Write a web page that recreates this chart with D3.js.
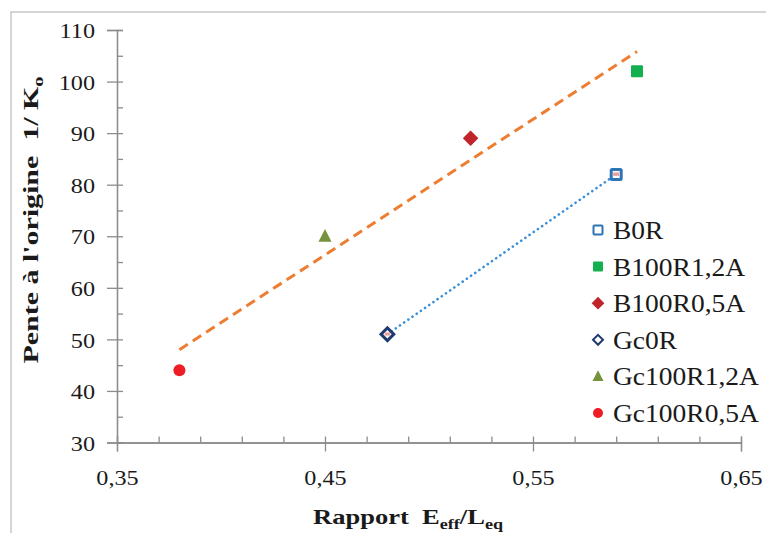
<!DOCTYPE html>
<html><head><meta charset="utf-8">
<script src="https://cdn.jsdelivr.net/npm/d3@7"></script>
<style>body{margin:0;background:#fff}svg{display:block}text{white-space:pre}</style>
</head><body>
<svg id="c" width="766" height="533"></svg>
<script>
// ---- data ----
const seriesNames = ["B0R", "B100R1,2A", "B100R0,5A", "Gc0R", "Gc100R1,2A", "Gc100R0,5A"];
const xValues = [0.59, 0.60, 0.52, 0.48, 0.45, 0.38];
const yValues = [82, 102, 89, 51, 70, 44];
const xTickValues = [0.35, 0.45, 0.55, 0.65];
const yTickValues = [30, 40, 50, 60, 70, 80, 90, 100, 110];
const orangeFitSeries = ["B100R1,2A", "B100R0,5A", "Gc100R1,2A", "Gc100R0,5A"];
const blueLineSeries = ["Gc0R", "B0R"];

// ---- styles ----
const styles = {
  "B0R":        {shape: "square",   size: 10, fill: "#fff",    stroke: "#2E75B6", sw: 3,   inner: "#e8a0a0"},
  "B100R1,2A":  {shape: "square",   size: 12, fill: "#13B04F", stroke: "none",    sw: 0},
  "B100R0,5A":  {shape: "diamond",  size: 11, fill: "#C0252C", stroke: "none",    sw: 0},
  "Gc0R":       {shape: "diamond",  size: 9,  fill: "#fff",    stroke: "#1F3A6E", sw: 3,   inner: "#e8a0a0"},
  "Gc100R1,2A": {shape: "triangle", size: 13, fill: "#76923C", stroke: "none",    sw: 0},
  "Gc100R0,5A": {shape: "circle",   size: 12, fill: "#EE1C25", stroke: "none",    sw: 0}
};
const legendStyles = {
  "B0R":        {size: 9,  sw: 2},
  "B100R1,2A":  {size: 10, sw: 0},
  "B100R0,5A":  {size: 9,  sw: 0},
  "Gc0R":       {size: 7,  sw: 2},
  "Gc100R1,2A": {size: 11, sw: 0},
  "Gc100R0,5A": {size: 10, sw: 0}
};

const svg = d3.select("#c");
const W = 766, H = 533;
const FONT = "'Liberation Serif', 'Times New Roman', serif";

function widen(sel, k) {
  sel.each(function () {
    const w = this.getComputedTextLength();
    d3.select(this).attr("textLength", w * k).attr("lengthAdjust", "spacingAndGlyphs");
  });
}

// frame
svg.append("rect").attr("x", 11).attr("y", 12).attr("width", W + 20).attr("height", H + 20)
  .attr("fill", "none").attr("stroke", "#c8c8c8").attr("stroke-width", 1.5);

const x = d3.scaleLinear().domain([0.35, 0.65]).range([117, 741]);
const y = d3.scaleLinear().domain([30, 110]).range([442.5, 30]);

const axisColor = "#8c8c8c";
const fmtX = v => d3.format(".2f")(v).replace(".", ",");

const xMinor = d3.range(0, 16).map(i => +(0.35 + i * 0.02).toFixed(2));
const yMinor = d3.range(0, 17).map(i => 30 + i * 5);

function styleAxis(g) {
  g.select(".domain").attr("stroke", axisColor).attr("stroke-width", 1.3);
  g.selectAll(".tick line").attr("stroke", axisColor).attr("stroke-width", 1.3);
}

const gxMinor = svg.append("g").attr("transform", `translate(0,${y(30)})`)
  .call(d3.axisBottom(x).tickValues(xMinor).tickSize(-6).tickFormat(""));
styleAxis(gxMinor);
const gyMinor = svg.append("g").attr("transform", `translate(${x(0.35)},0)`)
  .call(d3.axisLeft(y).tickValues(yMinor).tickSize(-6).tickFormat(""));
styleAxis(gyMinor);

const gx = svg.append("g").attr("transform", `translate(0,${y(30)})`)
  .call(d3.axisBottom(x).tickValues(xTickValues).tickSize(9).tickFormat(fmtX));
styleAxis(gx);
gx.selectAll("text").attr("y", 35).attr("dy", "0.35em")
  .attr("font-family", FONT).attr("font-size", 22).attr("fill", "#1a1a1a");
widen(gx.selectAll("text"), 1.1);

const gy = svg.append("g").attr("transform", `translate(${x(0.35)},0)`)
  .call(d3.axisLeft(y).tickValues(yTickValues).tickSize(10).tickFormat(d3.format("d")));
styleAxis(gy);
gy.selectAll("text").attr("x", -22).attr("dy", "0.35em")
  .attr("font-family", FONT).attr("font-size", 22).attr("fill", "#1a1a1a");
widen(gy.selectAll("text"), 1.1);

// ---- trend lines ----
const pts = seriesNames.map((n, i) => ({name: n, x: xValues[i], y: yValues[i]}));
const fitPts = pts.filter(p => orangeFitSeries.includes(p.name));
const mx = d3.mean(fitPts, p => p.x), my = d3.mean(fitPts, p => p.y);
const slope = d3.sum(fitPts, p => (p.x - mx) * (p.y - my)) / d3.sum(fitPts, p => (p.x - mx) ** 2);
const icpt = my - slope * mx;
const [fx0, fx1] = d3.extent(fitPts, p => p.x);
const line = d3.line().x(d => x(d[0])).y(d => y(d[1]));
svg.append("path").datum([[fx0, icpt + slope * fx0], [fx1, icpt + slope * fx1]])
  .attr("d", line).attr("fill", "none").attr("stroke", "#ED7D31")
  .attr("stroke-width", 3).attr("stroke-dasharray", "10,6").attr("stroke-linecap", "butt");

const bluePts = blueLineSeries.map(n => pts.find(p => p.name === n)).sort((a, b) => a.x - b.x);
svg.append("path").datum(bluePts.map(p => [p.x, p.y]))
  .attr("d", line).attr("fill", "none").attr("stroke", "#3A8FD8")
  .attr("stroke-width", 2.6).attr("stroke-dasharray", "0.1,5").attr("stroke-linecap", "round");

// ---- markers ----
function drawMarker(g, st, size, sw, showInner) {
  const s = size;
  let el;
  if (st.shape === "square") {
    el = g.append("rect").attr("x", -s / 2).attr("y", -s / 2).attr("width", s).attr("height", s).attr("rx", 1);
  } else if (st.shape === "diamond") {
    el = g.append("rect").attr("x", -s / 2).attr("y", -s / 2).attr("width", s).attr("height", s)
      .attr("transform", "rotate(45)");
  } else if (st.shape === "triangle") {
    el = g.append("path").attr("d", `M0,${-s * 0.55}L${s * 0.5},${s * 0.42}L${-s * 0.5},${s * 0.42}Z`);
  } else {
    el = g.append("circle").attr("r", s / 2);
  }
  el.attr("fill", st.fill).attr("stroke", st.stroke).attr("stroke-width", sw);
  if (showInner && st.inner) {
    g.append("rect").attr("x", -s * 0.3).attr("y", -s * 0.2).attr("width", s * 0.6).attr("height", s * 0.35)
      .attr("fill", st.inner);
  }
}

pts.forEach(p => {
  const st = styles[p.name];
  const g = svg.append("g").attr("transform", `translate(${x(p.x)},${y(p.y)})`);
  drawMarker(g, st, st.size, st.sw, true);
});

// ---- legend ----
const legTop = 230, legStep = 36.6;
seriesNames.forEach((n, i) => {
  const cy = legTop + i * legStep;
  const g = svg.append("g").attr("transform", `translate(598,${cy})`);
  drawMarker(g, styles[n], legendStyles[n].size, legendStyles[n].sw, false);
  const t = svg.append("text").attr("x", 613).attr("y", cy).attr("dy", "0.36em")
    .attr("font-family", FONT).attr("font-size", 25).attr("fill", "#1a1a1a").text(n);
  widen(t, 1.1);
});

// ---- axis titles ----
const xt = svg.append("text").attr("x", 408).attr("y", 524).attr("text-anchor", "middle")
  .attr("font-family", FONT).attr("font-size", 22).attr("font-weight", "bold").attr("fill", "#1a1a1a");
xt.append("tspan").text("Rapport  E");
xt.append("tspan").attr("font-size", 15).attr("dy", 5).text("eff");
xt.append("tspan").attr("dy", -5).text("/L");
xt.append("tspan").attr("font-size", 15).attr("dy", 5).text("eq");
xt.attr("textLength", 190).attr("lengthAdjust", "spacingAndGlyphs");

const yt = svg.append("text").attr("transform", "translate(38,220) rotate(-90)").attr("text-anchor", "middle")
  .attr("font-family", FONT).attr("font-size", 22).attr("font-weight", "bold").attr("fill", "#1a1a1a");
yt.append("tspan").text("Pente à l'origine  1/ K");
yt.append("tspan").attr("font-size", 15).attr("dy", 5).text("o");
yt.attr("textLength", 287).attr("lengthAdjust", "spacingAndGlyphs");
</script>
</body></html>
